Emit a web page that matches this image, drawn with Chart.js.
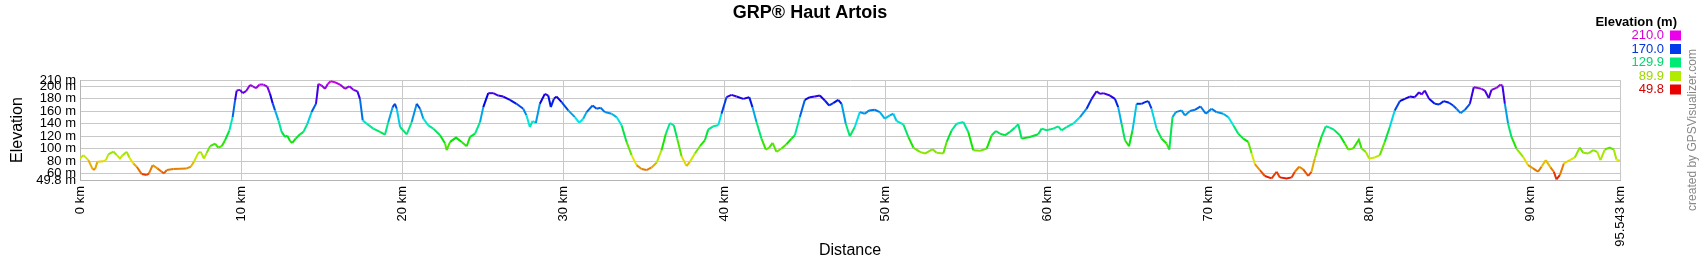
<!DOCTYPE html>
<html>
<head>
<meta charset="utf-8">
<title>GRP® Haut Artois</title>
<script src="https://cdn.jsdelivr.net/npm/chart.js@4.4.0/dist/chart.umd.min.js"></script>
<style>
  html, body { margin: 0; padding: 0; background: #fff; }
  #wrap { width: 1700px; height: 260px; }
</style>
</head>
<body>
<div id="wrap"><canvas id="perfil" width="1700" height="260"></canvas></div>
<script>
// distance along the track (km)
const distancias = [
  0, 0.21, 0.52, 0.79, 0.93, 1.08, 1.45, 1.61, 1.76, 2.07, 2.28, 2.48, 2.65, 2.9, 3.06, 3.31, 3.52, 3.83, 4.14, 4.28,
  4.51, 4.8, 5.07, 5.21, 5.38, 5.79, 6.2, 6.62, 6.87, 7.07, 7.34, 7.49, 7.69, 7.86, 8.07, 8.38, 8.58, 8.79, 9.0, 9.27,
  9.47, 9.62, 9.72, 9.93, 10.09, 10.3, 10.55, 10.71, 10.92, 11.13, 11.38, 11.62, 11.79, 11.95, 12.1, 12.31, 12.51, 12.72, 12.86, 13.03,
  13.17, 13.38, 13.65, 13.86, 14.11, 14.37, 14.64, 14.79, 15.0, 15.2, 15.37, 15.55, 15.82, 16.13, 16.44, 16.71, 16.96, 17.21, 17.37, 17.54,
  17.79, 18.2, 18.61, 18.92, 19.13, 19.4, 19.54, 19.65, 19.86, 20.27, 20.58, 20.89, 21.1, 21.3, 21.61, 21.92, 22.34, 22.65, 22.75, 22.96,
  23.33, 23.68, 23.99, 24.2, 24.51, 24.82, 25.02, 25.33, 25.64, 25.95, 26.26, 26.67, 27.08, 27.5, 27.7, 27.91, 28.08, 28.28, 28.53, 28.84,
  29.05, 29.21, 29.4, 29.57, 29.88, 30.29, 30.7, 30.97, 31.22, 31.43, 31.8, 32.05, 32.3, 32.56, 32.98, 33.29, 33.6, 33.91, 34.22, 34.53,
  34.84, 35.15, 35.46, 35.77, 36.08, 36.35, 36.6, 36.84, 37.05, 37.32, 37.63, 37.84, 38.15, 38.46, 38.77, 38.97, 39.28, 39.6, 39.8, 40.11,
  40.42, 40.73, 41.15, 41.52, 41.72, 41.97, 42.28, 42.55, 42.76, 42.97, 43.21, 43.52, 43.83, 44.14, 44.35, 44.66, 44.97, 45.28, 45.59, 45.9,
  46.21, 46.48, 46.73, 47.04, 47.25, 47.51, 47.76, 48.07, 48.38, 48.69, 48.96, 49.31, 49.62, 49.93, 50.24, 50.46, 50.66, 51.08, 51.39, 51.7,
  52.11, 52.42, 52.9, 53.14, 53.56, 53.77, 54.08, 54.39, 54.8, 55.11, 55.42, 55.83, 56.25, 56.56, 56.83, 57.07, 57.38, 57.69, 58.0, 58.21,
  58.42, 58.93, 59.45, 59.66, 59.97, 60.38, 60.69, 60.9, 61.21, 61.62, 62.04, 62.45, 62.76, 63.07, 63.28, 63.48, 63.9, 64.21, 64.41, 64.62,
  64.83, 65.08, 65.3, 65.55, 65.86, 66.07, 66.28, 66.48, 66.79, 67.1, 67.41, 67.58, 67.78, 67.99, 68.34, 68.55, 68.86, 69.17, 69.52, 69.85,
  70.2, 70.51, 70.93, 71.24, 71.55, 71.86, 72.17, 72.48, 72.69, 72.89, 73.2, 73.51, 73.93, 74.24, 74.44, 74.86, 75.17, 75.37, 75.64, 75.89,
  76.2, 76.4, 76.61, 76.82, 77.02, 77.29, 77.54, 77.79, 78.16, 78.47, 78.68, 78.99, 79.34, 79.51, 79.77, 79.98, 80.33, 80.64, 80.95, 81.26,
  81.57, 81.88, 82.19, 82.5, 82.81, 83.08, 83.23, 83.43, 83.7, 84.05, 84.32, 84.61, 84.94, 85.19, 85.4, 85.65, 85.92, 86.23, 86.47, 86.74,
  86.95, 87.16, 87.4, 87.57, 87.88, 88.13, 88.25, 88.4, 88.6, 88.81, 89.12, 89.53, 89.84, 90.15, 90.46, 90.67, 90.94, 91.23, 91.44, 91.6,
  91.81, 92.06, 92.43, 92.74, 93.05, 93.26, 93.57, 93.88, 94.13, 94.33, 94.6, 94.91, 95.16, 95.32, 95.543
];

// elevation (m)
const elevacoes = [
  84, 89.6, 81.6, 66.8, 66.8, 79, 80, 81.6, 91, 95.4, 89.6, 84.3, 89.6, 94.9, 85.9, 76.3, 71, 59.3, 57.7, 60.4,
  73.6, 68.4, 63, 60.4, 65.7, 67.3, 67.8, 68.4, 71, 79, 93.3, 94.9, 84.3, 93.3, 103.9, 108.2, 101.8, 103.9, 113.5, 129.4,
  150.6, 177.2, 193.1, 194.2, 188.9, 192, 202.1, 200, 196.8, 202.7, 202.7, 199.5, 187.8, 172.9, 161.3, 145.3, 126.8, 118.8, 120.9, 112.4,
  109.2, 116.1, 123, 126.8, 140, 158.6, 171.9, 203.7, 201.1, 195.8, 203.7, 208, 206.4, 202.7, 195.8, 200, 194.2, 192, 179.8, 145.3,
  140, 132.1, 126.8, 122.5, 142.7, 166.6, 171.9, 164, 134.7, 123, 142.7, 171.9, 164, 148, 137.4, 132.1, 121.4, 108.2, 97.6, 110.8,
  117.7, 110.8, 103.9, 118.8, 124.1, 142.7, 166.6, 188.9, 188.9, 185.1, 183.5, 178.2, 171.9, 164, 153.3, 134.7, 144.3, 141.1, 171.9, 187.8,
  185.1, 166.6, 179.8, 183.5, 174.5, 161.3, 150.6, 141.6, 148, 158.6, 169.2, 164, 165.5, 158.6, 155.9, 150.6, 137.4, 110.8, 89.6, 73.6,
  67.3, 65.7, 70, 77.4, 97.6, 124.1, 141.1, 137.4, 116.1, 88, 72, 79, 92.2, 103.9, 113.5, 130.5, 135.8, 137.4, 155.9, 182.5,
  186.2, 183.5, 179.8, 182.5, 166.6, 142.7, 116.1, 98.6, 101.8, 109.2, 94.9, 100.2, 107.1, 116.1, 121.4, 150.6, 178.2, 182.5, 183.5, 185.1,
  177.2, 169.2, 172.9, 178.2, 171.9, 140, 119.9, 134.7, 158.6, 155.9, 161.3, 162.3, 158.6, 148, 153.3, 155.9, 144.3, 139, 118.8, 101.8,
  94.9, 92.2, 99.1, 93.3, 92.2, 110.8, 129.4, 140, 142.7, 126.8, 97.6, 96.5, 100.2, 121.4, 128.3, 124.1, 121.4, 126.8, 133.7, 139,
  116.1, 118.8, 123, 132.1, 129.4, 132.1, 135.8, 129.4, 134.7, 140, 150.6, 164, 179.8, 192, 187.8, 188.9, 185.1, 179.8, 166.6, 140,
  113.5, 103.9, 129.4, 171.9, 171.9, 174.5, 176.1, 164, 132.1, 116.1, 108.2, 98.6, 150.6, 158.6, 161.3, 153.3, 160.2, 162.3, 167.6, 155.9,
  164, 158.6, 155.9, 150.6, 137.4, 124.1, 116.1, 110.8, 92.2, 75.3, 65.7, 56.2, 52.4, 63, 54, 52.4, 54, 63, 71, 66.8,
  56.2, 63, 84.3, 102.9, 118.8, 135.8, 133.7, 130.5, 121.4, 108.2, 98.6, 100.2, 114.5, 100.2, 94.9, 84.3, 85.9, 89.6, 110.8, 134.7,
  161.3, 176.1, 179.8, 183.5, 182.5, 190.4, 186.7, 193.1, 179.8, 171.9, 170.8, 176.1, 173.5, 169.2, 164, 157, 162.3, 171.9, 198.4, 197.3,
  195.8, 193.1, 180.9, 194.2, 197.3, 202.7, 201.1, 171.9, 140, 118.8, 100.2, 87, 73.6, 68.4, 63, 71, 81.6, 70, 63, 50.9,
  57.7, 76.3, 81.6, 85.9, 101.8, 93.3, 92.2, 97.6, 94.9, 81.6, 98.6, 101.8, 98.6, 82.7, 80.5
];

// axis ticks
const xTicks = [0, 10, 20, 30, 40, 50, 60, 70, 80, 90, 95.543];
const yTicks = [49.8, 60, 80, 100, 120, 140, 160, 180, 200, 210];

// colour legend on the right
const legendaValores = [210.0, 170.0, 129.9, 89.9, 49.8];

const ELEV_MIN = 49.8;
const ELEV_MAX = 210;
const FONTE = '"Liberation Sans", Arial, sans-serif';

// red (low) -> yellow -> green -> blue -> magenta (high)
function corElevacao(e, luz) {
    const t = Math.min(1, Math.max(0, (e - ELEV_MIN) / (ELEV_MAX - ELEV_MIN)));
    return 'hsl(' + (t * 300).toFixed(1) + ', 100%, ' + (luz || 45) + '%)';
}

// legend + credit text
const legendaElevacao = {
    id: 'legendaElevacao',
    afterDraw(chart) {
        const ctx = chart.ctx;
        const xd = chart.width - 23;
        ctx.save();
        ctx.textBaseline = 'middle';
        ctx.textAlign = 'right';
        ctx.fillStyle = '#000';
        ctx.font = 'bold 13px ' + FONTE;
        ctx.fillText('Elevation (m)', xd, 22);
        ctx.font = '13px ' + FONTE;
        legendaValores.forEach((v, i) => {
            const y = 35.5 + i * 13.5;
            ctx.fillStyle = corElevacao(v, 42);
            ctx.fillText(v.toFixed(1), xd - 13, y);
            ctx.fillStyle = corElevacao(v, 46);
            ctx.fillRect(xd - 7, y - 5, 11, 10);
        });

        ctx.translate(chart.width - 7, 130);
        ctx.rotate(-Math.PI / 2);
        ctx.textAlign = 'center';
        ctx.fillStyle = '#888';
        ctx.font = '12px ' + FONTE;
        ctx.fillText('created by GPSVisualizer.com', 0, 0);
        ctx.restore();
    }
};

Chart.defaults.font.family = FONTE;
Chart.defaults.color = '#000';

const pontos = distancias.map((d, i) => ({ x: d, y: elevacoes[i] }));

new Chart(document.getElementById('perfil').getContext('2d'), {
    type: 'line',
    data: {
        datasets: [{
            data: pontos,
            borderWidth: 2,
            pointRadius: 0,
            tension: 0,
            borderColor: '#000',
            segment: {
                borderColor: c => corElevacao((c.p0.parsed.y + c.p1.parsed.y) / 2)
            }
        }]
    },
    options: {
        responsive: false,
        animation: false,
        layout: { padding: { top: 0, right: 80, bottom: 0, left: 0 } },
        plugins: {
            legend: { display: false },
            tooltip: { enabled: false },
            title: {
                display: true,
                text: 'GRP® Haut Artois',
                color: '#000',
                font: { size: 18, weight: 'bold' },
                padding: { top: 2, bottom: 56.4 }
            }
        },
        scales: {
            x: {
                type: 'linear',
                min: 0,
                max: 95.543,
                afterBuildTicks: ax => { ax.ticks = xTicks.map(v => ({ value: v })); },
                afterFit: ax => { ax.height = 80; },
                ticks: {
                    autoSkip: false,
                    minRotation: 90,
                    maxRotation: 90,
                    padding: 6,
                    font: { size: 13 },
                    callback: v => v + ' km'
                },
                grid: { color: '#c8c8c8', drawTicks: false },
                border: { color: '#b4b4b4' },
                title: { display: true, text: 'Distance', font: { size: 16 }, padding: { top: 0, bottom: 0 } }
            },
            y: {
                min: ELEV_MIN,
                max: ELEV_MAX,
                afterBuildTicks: ax => { ax.ticks = yTicks.map(v => ({ value: v })); },
                afterFit: ax => { ax.width = 80; },
                ticks: {
                    autoSkip: false,
                    padding: 4,
                    font: { size: 13 },
                    callback: v => v + ' m'
                },
                grid: { color: '#c8c8c8', drawTicks: false },
                border: { color: '#b4b4b4' },
                title: { display: true, text: 'Elevation', font: { size: 16 }, padding: { top: 8, bottom: 0 } }
            }
        }
    },
    plugins: [legendaElevacao]
});
</script>
</body>
</html>
